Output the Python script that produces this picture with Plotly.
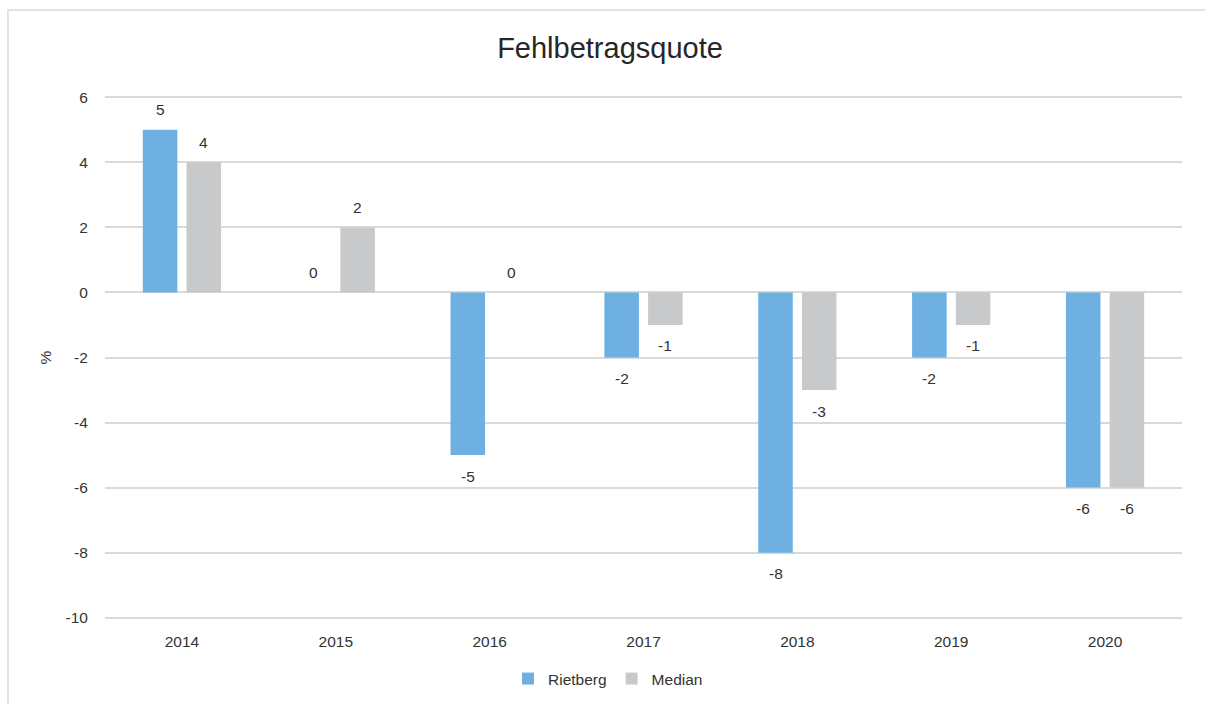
import plotly.graph_objects as go

# Fehlbetragsquote in percent, Rietberg versus the median of comparable municipalities
years = ["2014", "2015", "2016", "2017", "2018", "2019", "2020"]
rietberg = [5, 0, -5, -2, -8, -2, -6]
median = [4, 2, 0, -1, -3, -1, -6]
y_ticks = [6, 4, 2, 0, -2, -4, -6, -8, -10]

BLUE = "#6DB0E1"
GREY = "#C8C9CA"
GRID = "#D9D9D9"
TEXT = "#333333"
FONT = "Liberation Sans, Arial, sans-serif"
FS = 15.5

# plot-area geometry in pixels (used for the outer frame)
W, H = 1205, 704
M_L, M_R, M_T, M_B = 105, 23, 94, 83
PW, PH = W - M_L - M_R, H - M_T - M_B

fig = go.Figure()
fig.add_trace(go.Bar(name="Rietberg", x=years, y=rietberg, marker_color=BLUE,
                     marker_line_width=0))
fig.add_trace(go.Bar(name="Median", x=years, y=median, marker_color=GREY,
                     marker_line_width=0))

# value labels above positive / below negative bars
# (positioned by category index so the year strings are not read as numbers)
SLOT = 21.8
for series, shift in ((rietberg, -SLOT), (median, SLOT)):
    for idx, v in enumerate(series):
        fig.add_annotation(x=idx, y=v, text=str(v), showarrow=False,
                           xshift=shift, yshift=20 if v >= 0 else -21,
                           font=dict(family=FONT, size=FS, color=TEXT))

# chart frame
fig.add_shape(type="rect", xref="paper", yref="paper",
              x0=(8 - M_L) / PW, x1=(W + 8 - M_L) / PW,
              y0=(H - M_B - (H + 8)) / PH, y1=(H - M_B - 10) / PH,
              line=dict(color=GRID, width=1.5), fillcolor="rgba(0,0,0,0)",
              layer="below")

fig.update_layout(
    width=W, height=H,
    margin=dict(l=M_L, r=M_R, t=M_T, b=M_B),
    paper_bgcolor="white", plot_bgcolor="white",
    font=dict(family=FONT, size=FS, color=TEXT),
    title=dict(text="Fehlbetragsquote", x=610 / W, xanchor="center",
               y=1 - 48 / H, yanchor="middle", yref="container",
               font=dict(family=FONT, size=29, color="#262626")),
    barmode="group", bargap=0.432, bargroupgap=0.21,
    showlegend=True,
    legend=dict(orientation="h", xref="container", yref="container",
                x=608 / W, xanchor="center", y=1 - 679 / H, yanchor="middle",
                font=dict(family=FONT, size=FS, color=TEXT),
                itemwidth=30, traceorder="normal"),
    xaxis=dict(type="category", range=[-0.5, len(years) - 0.5],
               showgrid=False, showline=False, zeroline=False,
               ticks="outside", ticklen=6, tickcolor="rgba(0,0,0,0)",
               tickfont=dict(family=FONT, size=FS, color=TEXT)),
    yaxis=dict(range=[-10.1, 6.1], tickvals=y_ticks,
               ticktext=[str(t) for t in y_ticks], showgrid=True,
               gridcolor=GRID, gridwidth=1.5, zeroline=False, showline=False,
               ticks="outside", ticklen=13, tickcolor="rgba(0,0,0,0)",
               tickfont=dict(family=FONT, size=FS, color=TEXT),
               title=dict(text="%", standoff=10,
                          font=dict(family=FONT, size=FS, color=TEXT))),
)

fig.write_html("out.html")
